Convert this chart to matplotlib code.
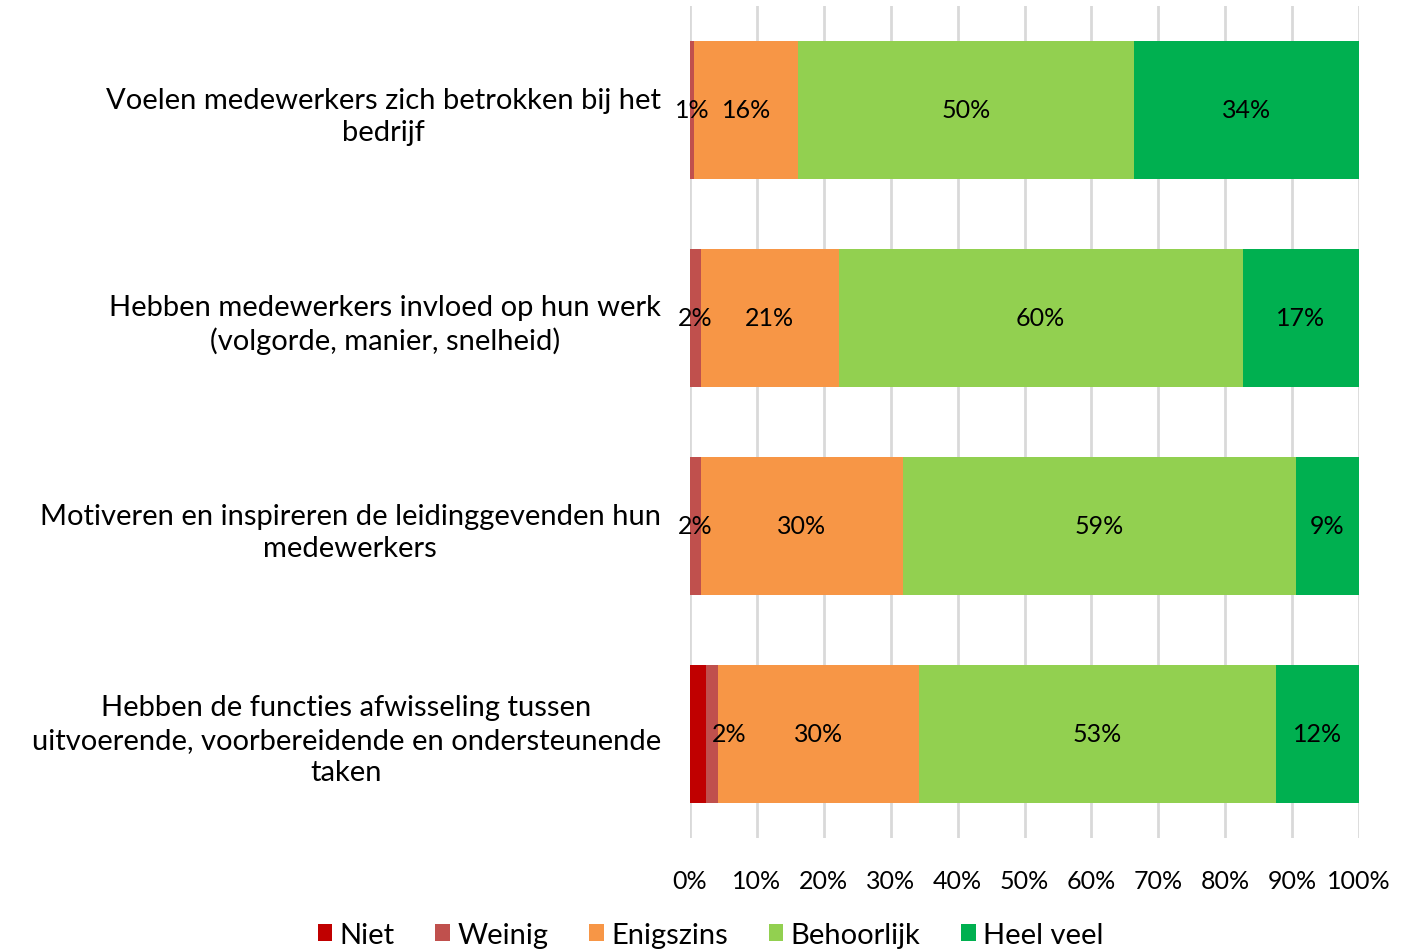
import numpy as np
import matplotlib.pyplot as plt

plt.rcParams['font.family'] = ['Lato', 'DejaVu Sans']

questions = [
    "Voelen medewerkers zich betrokken bij het\nbedrijf",
    "Hebben medewerkers invloed op hun werk\n(volgorde, manier, snelheid)",
    "Motiveren en inspireren de leidinggevenden hun\nmedewerkers",
    "Hebben de functies afwisseling tussen\nuitvoerende, voorbereidende en ondersteunende\ntaken",
]
categories = ["Niet", "Weinig", "Enigszins", "Behoorlijk", "Heel veel"]
colors = ["#C00000", "#C0504D", "#F79646", "#92D050", "#00B050"]

# percentages per category, one value per question (same order as questions)
niet = [0.0, 0.0, 0.0, 2.4]
weinig = [0.6, 1.6, 1.6, 1.8]
enigszins = [15.6, 20.6, 30.2, 30.0]
behoorlijk = [50.2, 60.4, 58.8, 53.4]
heel_veel = [33.6, 17.4, 9.4, 12.4]

series = [niet, weinig, enigszins, behoorlijk, heel_veel]

fig = plt.figure(figsize=(14.21, 9.53), dpi=100)
ax = fig.add_axes([690 / 1421, 1 - 839 / 953, (1359 - 690) / 1421, (839 - 7) / 953])

y = np.arange(len(questions))
left = np.zeros(len(questions))
for k, (name, vals, col) in enumerate(zip(categories, series, colors)):
    vals = np.array(vals)
    ax.barh(y, vals, left=left, height=0.665, color=col, label=name, zorder=3)
    for i, v in enumerate(vals):
        if name == "Niet" or v < 0.5:
            continue
        dx = 0
        if i == 3 and name == "Weinig":
            dx = 12  # label moved next to the thin bars
        ax.annotate(f"{round(v):d}%", (left[i] + v / 2, y[i]), xytext=(dx, 0),
                    textcoords="offset points", ha="center", va="center",
                    fontsize=18, color="black", zorder=4)
    left += vals

ax.set_xlim(0, 100)
ax.set_ylim(len(questions) - 0.5, -0.5)
ax.set_xticks(np.arange(0, 101, 10))
ax.set_xticklabels([f"{t}%" for t in range(0, 101, 10)], fontsize=18)
ax.set_yticks(y)
ax.set_yticklabels(questions, fontsize=21, multialignment="center", linespacing=1.3)
ax.tick_params(axis="both", length=0)
ax.tick_params(axis="y", pad=21)
ax.tick_params(axis="x", pad=22)
ax.grid(axis="x", color="#D9D9D9", linewidth=2, zorder=0)
for s in ax.spines.values():
    s.set_visible(False)

fig.legend(loc="center", bbox_to_anchor=(0.5, 1 - 936 / 953), ncol=5, frameon=False,
           fontsize=21, handlelength=0.5, handleheight=0.5, handletextpad=0.25,
           columnspacing=1.4)

fig.savefig("out.png", dpi=100)
